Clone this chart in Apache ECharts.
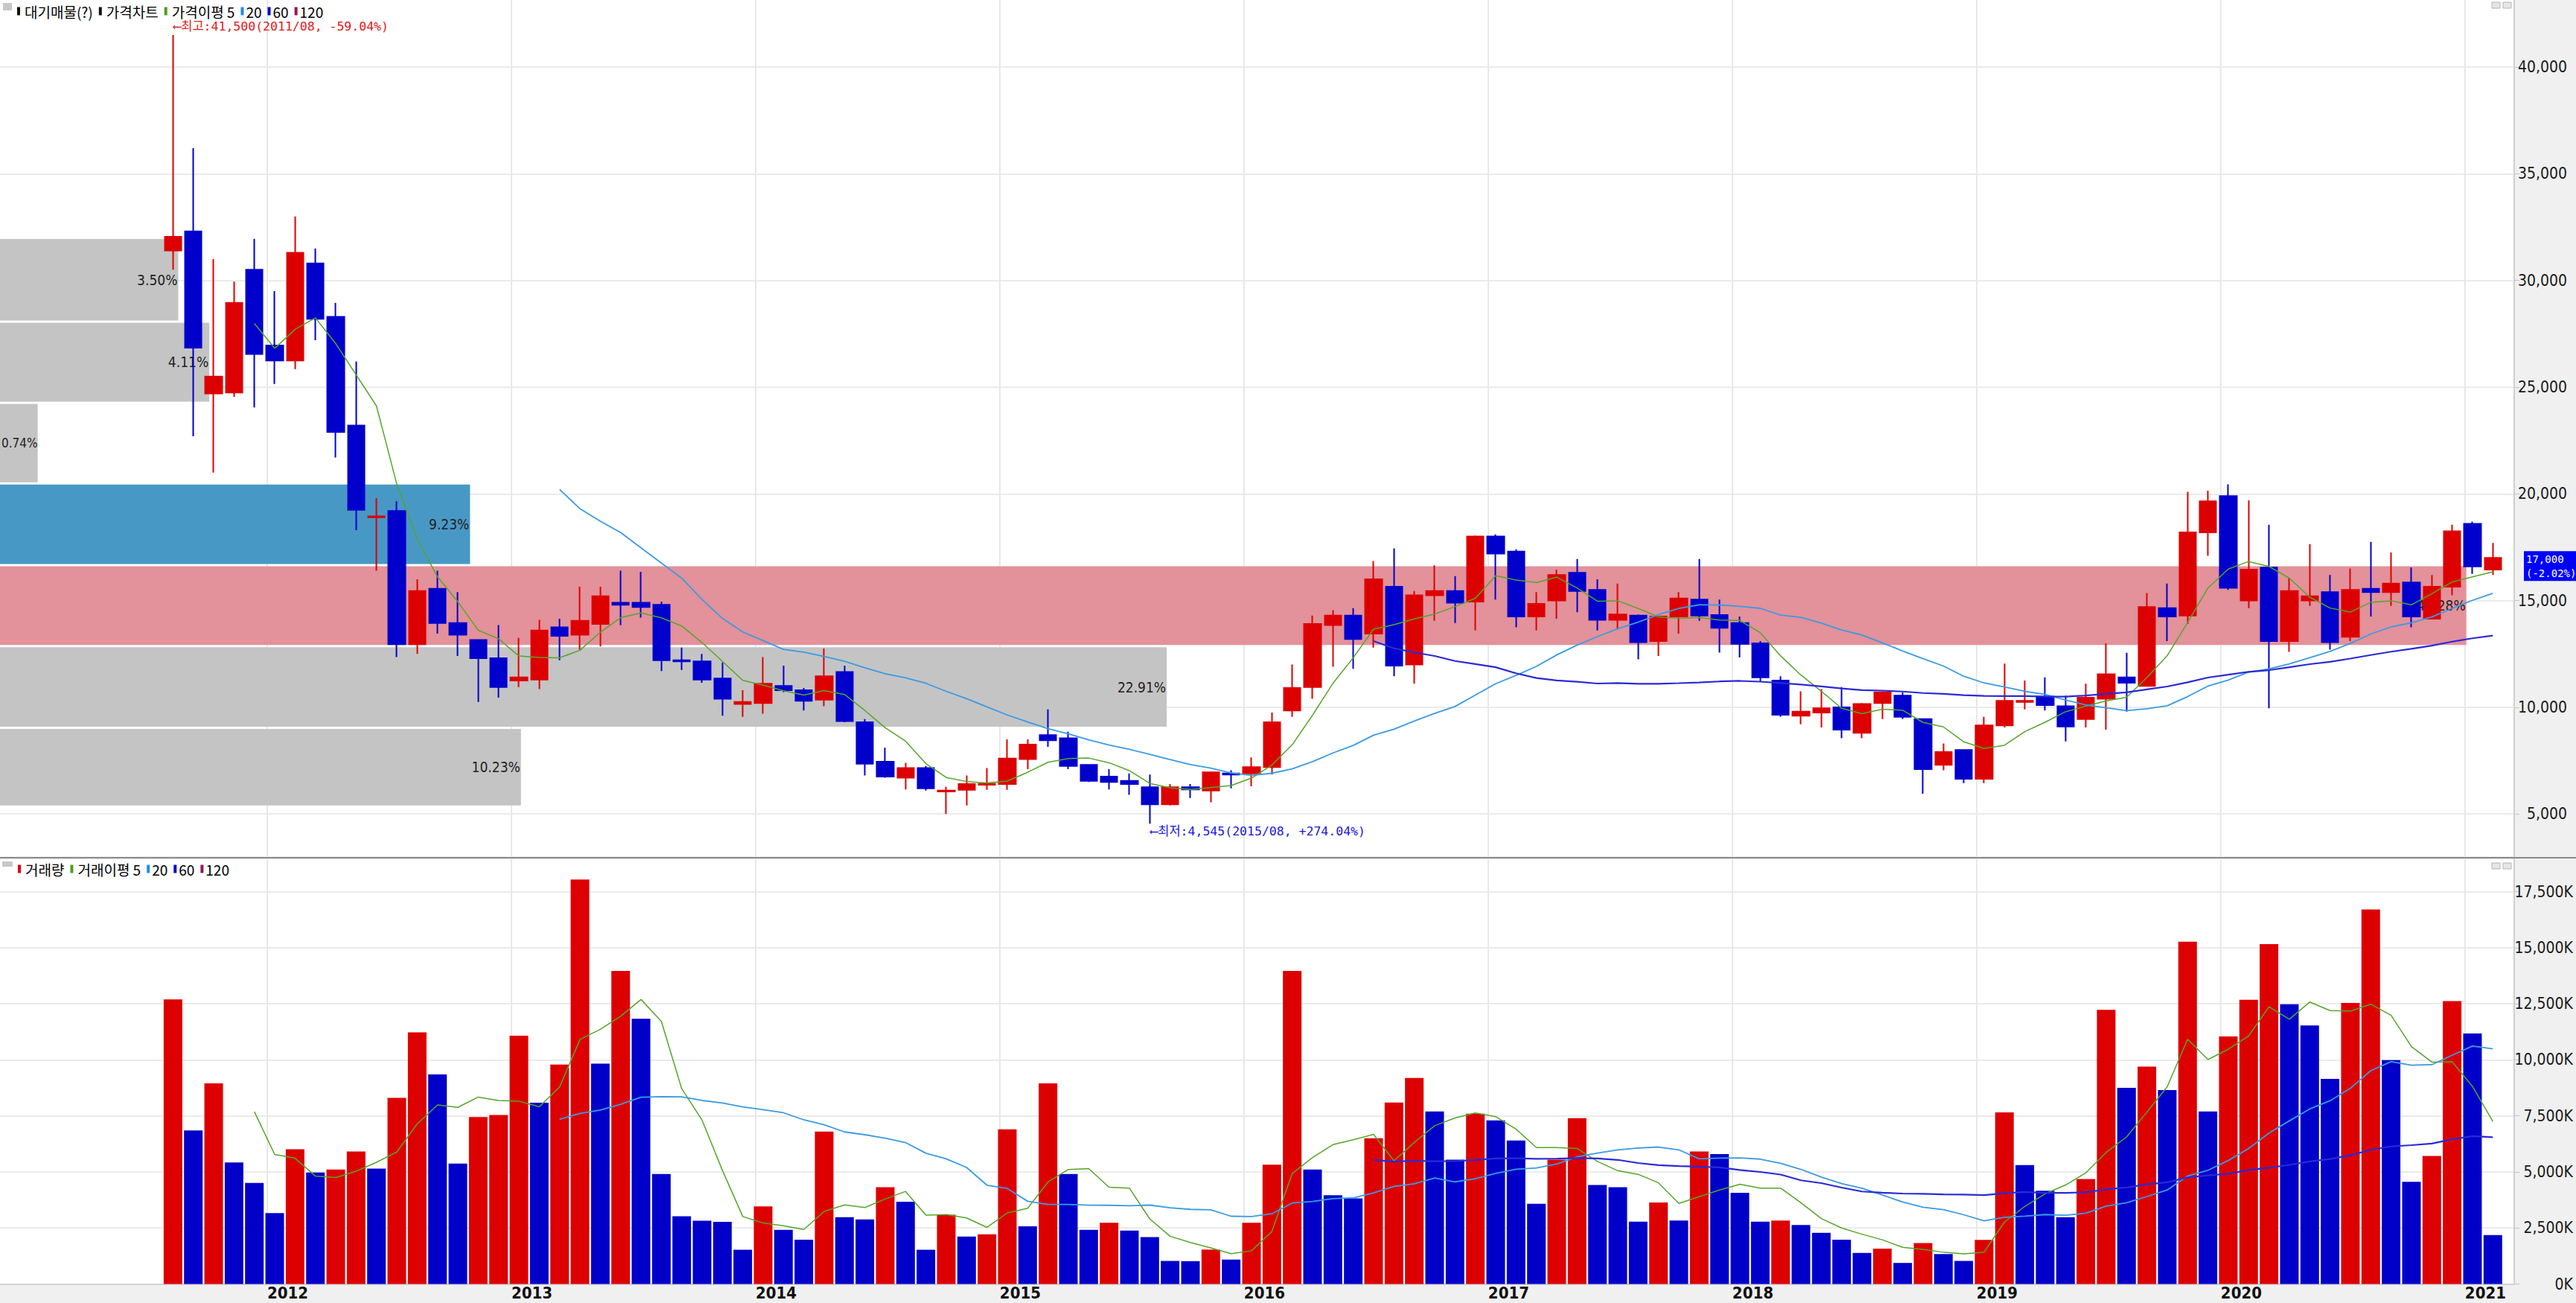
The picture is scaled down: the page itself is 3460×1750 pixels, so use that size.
<!DOCTYPE html>
<html><head><meta charset="utf-8">
<script src="https://cdn.jsdelivr.net/npm/echarts@6/dist/echarts.min.js"></script>
<style>html,body{margin:0;padding:0;background:#f0f0f0;}#c{width:3460px;height:1750px;}</style>
</head><body><div id="c"></div>
<script>
// ---------------- DATA ----------------
const startYear = 2011, startMonth = 8; // first candle = 2011/08, monthly candles
const opens = [31400,32300,24700,24750,30500,26950,26250,30800,28300,23200,
  18900,19200,12950,15550,13950,13150,12300,11250,11300,13750,
  13400,13900,14900,14900,14800,12200,12150,11350,10150,10200,
  11000,10800,10350,11650,9300,7450,6700,7150,6050,6130,
  6370,6400,7570,8700,8550,7300,6750,6550,6250,5450,
  6250,6100,6900,6900,7200,9850,10950,13850,14300,13450,
  15650,12000,15250,15450,14950,18000,17300,14250,15000,16300,
  15500,14100,14300,13100,14250,15050,14320,13950,13000,11250,
  9600,9750,10000,8800,10200,10550,9450,7300,8000,6650,
  9150,10250,10500,10050,9450,10400,11400,11000,14650,14300,
  18200,19900,15000,16550,13100,15000,15400,13300,15550,15400,
  15850,14150,15650,18600,16450];
const closes = [32050,26850,25500,28950,26550,26250,31300,28200,22900,19250,
  18950,12950,15450,13950,13400,12300,10950,11400,13600,13350,
  14050,15200,14800,14700,12200,12150,11300,10400,10250,11100,
  10800,10300,11450,9350,7350,6750,7150,6200,6100,6400,
  6420,7600,8250,8450,7250,6550,6500,6400,5450,6250,
  6150,6950,6850,7200,9300,10900,13900,14300,13200,16000,
  11950,15250,15450,14900,18000,17200,14250,14850,16200,15450,
  14100,14350,13050,14250,15100,14300,13720,12970,11400,9650,
  9800,9950,8950,10150,10700,9550,7100,7900,6650,9150,
  10300,10300,10100,9100,10450,11550,11150,14700,14250,18200,
  19650,15600,16450,13100,15450,15200,13050,15500,15400,15800,
  14250,15650,18250,16600,17000];
const lows = [30500,22700,21000,24550,24050,25150,25850,27200,21700,18300,
  16400,12350,12500,13450,12400,10250,10450,10950,10850,12200,
  12700,12850,13850,14200,11700,11750,11150,9600,9550,9700,
  10700,9850,10050,9300,6800,6700,6150,6100,5000,5400,
  6130,6130,7100,8150,7100,6500,6150,5900,4545,5400,
  5750,5550,6200,6300,6850,9550,10400,11900,11800,12800,
  11450,11100,14050,13950,13600,15050,13750,13600,14150,14450,
  13600,13650,12250,12400,13450,14050,12560,12330,11200,9550,
  9200,9050,8550,8550,9450,9450,5950,7050,6450,6450,
  9050,9900,9850,8400,9050,8950,9800,11000,13100,13900,
  17100,15500,14650,9950,12600,14750,12700,13100,14250,14750,
  13750,14150,15250,16250,16200];
const highs = [41500,36200,31000,29950,31950,29500,33000,31500,28950,26200,
  19800,19650,16000,16400,15400,13150,13850,13250,14100,14150,
  15650,15650,16400,16350,14950,12800,12500,12100,10800,12350,
  11950,10900,12750,11950,9450,8100,7400,7250,6270,6800,
  7150,8500,8500,9900,8850,7300,7100,6900,6850,6400,
  6400,6950,7050,7650,9750,12000,14300,14550,14650,16850,
  17450,15450,16650,16150,18050,18100,17400,15400,16450,16950,
  16000,15800,14350,14250,15400,16950,15050,14250,13100,11450,
  10750,10850,10950,10200,10750,10700,9450,8300,8000,9550,
  12050,11250,11400,10550,11100,13000,12550,15350,15800,20100,
  20150,20450,19700,18550,16050,17650,16200,16500,17750,17250,
  16550,16200,18550,18700,17700];
// volume in thousands of shares (K)
const volumes = [12700,6850,8950,5420,4510,3160,6010,4970,5110,5910,
  5150,8300,11230,9350,5370,7450,7540,11080,8090,9790,
  18040,9830,13970,11830,4910,3020,2820,2770,1530,3460,
  2420,1980,6800,2980,2880,4320,3670,1530,3090,2120,
  2220,6900,2570,8950,4910,2420,2730,2380,2090,1030,
  1020,1540,1090,2730,5320,13970,5110,3960,3820,6505,
  8100,9190,7700,5550,7600,7300,6400,3580,5550,7400,
  4420,4320,2780,3640,2830,5910,5800,4070,2780,2830,
  2630,2280,1980,1390,1580,940,1830,1340,1030,1970,
  7660,5310,4160,2980,4680,12230,8750,9700,8650,15270,
  7700,11040,12680,15160,12480,11530,9150,12540,16710,9990,
  4560,5710,12620,11180,2180];
const priceTicks = [5000,10000,15000,20000,25000,30000,35000,40000];
const volumeTicks = [0,2500,5000,7500,10000,12500,15000,17500];
// 대기매물 (volume-at-price) bands, top to bottom
const profileHigh = [32000,28070,24270,20490,16660,12870,9040];
const profileLow  = [28070,24270,20490,16660,12870,9040,5350];
const profilePct  = [3.50,4.11,0.74,9.23,49.28,22.91,10.23];
const lastChangePct = -2.02;
const maPeriods = [5,20,60];

// ---------------- HELPERS ----------------
const N = closes.length;
const monthLabel = i => {
  const t = startMonth - 1 + i;
  return (startYear + Math.floor(t / 12)) + '/' + String(t % 12 + 1).padStart(2, '0');
};
const janIdx = [];
for (let i = 0; i < N; i++) if ((startMonth - 1 + i) % 12 === 0) janIdx.push(i);
const GRID_OFF = -0.37;
const janPos = janIdx.map(i => i + GRID_OFF);
const yearOf = v => { const i = Math.round(v - GRID_OFF); return String(startYear + Math.floor((startMonth - 1 + i) / 12)); };
function ma(arr, n) {
  return arr.map((_, i) => {
    if (i < n - 1) return [i, null];
    let s = 0; for (let k = i - n + 1; k <= i; k++) s += arr[k];
    return [i, s / n];
  });
}
const fmt = v => v.toLocaleString('en-US');

const RED = '#dd0000', BLUE = '#0000cc';
const MA_COLORS = ['#55a52a', '#3a9be2', '#2a2ad6'];
const MA_WIDTHS = [1.5, 1.8, 2.2];
const NARROW = '"Liberation Sans Narrow","DejaVu Sans Condensed","Liberation Sans",sans-serif';
const MONO = '"DejaVu Sans Mono","Noto Sans CJK KR",monospace';
const KR = '"Noto Sans CJK KR","Noto Sans",sans-serif';

const candleData = opens.map((o, i) => [i, o, closes[i], lows[i], highs[i]]);
const volData = volumes.map((v, i) => [i, v]);
const volUp = volumes.map((v, i) => i === 0 || v > volumes[i - 1]);

const lastClose = closes[N - 1];
const curBand = profileLow.findIndex((lo, i) => lastClose >= lo && lastClose < profileHigh[i]);
const maxBand = profilePct.indexOf(Math.max(...profilePct));
const profileColor = i => i === maxBand ? '#e3919a' : (i === curBand ? '#4898c6' : '#c4c4c4');
const PROFILE_AXIS_MAX = 49.37, PROFILE_CLIP = 48.43;
const profileData = profilePct.map((p, i) => [profileLow[i], profileHigh[i], p]);

const X_MIN = -8.5, X_MAX = 115.05;

const chart = echarts.init(document.getElementById('c'), null, {renderer: 'svg', width: 3460, height: 1750});

const xBase = (grid) => ({
  type: 'value', gridIndex: grid, min: X_MIN, max: X_MAX,
  axisLine: {show: false, onZero: false},
  axisTick: {show: false, customValues: janPos},
  splitLine: {show: true, lineStyle: {color: '#e8e8e8', width: 2}},
});

const priceMA = maPeriods.map((p, k) => ({
  type: 'line', name: '이평' + p, xAxisIndex: 0, yAxisIndex: 0,
  data: ma(closes, p), showSymbol: false, symbol: 'none', connectNulls: false,
  lineStyle: {color: MA_COLORS[k], width: MA_WIDTHS[k]}, z: 6, silent: true
}));
const volMA = maPeriods.map((p, k) => ({
  type: 'line', name: '거래이평' + p, xAxisIndex: 1, yAxisIndex: 1,
  data: ma(volumes, p), showSymbol: false, symbol: 'none',
  lineStyle: {color: MA_COLORS[k], width: MA_WIDTHS[k]}, z: 6, silent: true
}));

const option = {
  animation: false,
  backgroundColor: '#f0f0f0',
  textStyle: {fontFamily: NARROW},
  grid: [
    {left: 0, top: 0, width: 3377, height: 1150, show: true, backgroundColor: '#ffffff', borderWidth: 0, containLabel: false, outerBoundsMode: 'none'},
    {left: 0, top: 1154, width: 3377, height: 570.5, show: true, backgroundColor: '#ffffff', borderWidth: 0, containLabel: false, outerBoundsMode: 'none'}
  ],
  xAxis: [
    Object.assign(xBase(0), {axisLabel: {show: false}}),
    Object.assign(xBase(1), {
      axisLine: {show: true, onZero: false, lineStyle: {color: '#d4d4d4', width: 2}},
      axisLabel: {show: true, customValues: janPos, formatter: yearOf, align: 'left', margin: 2,
        fontFamily: NARROW, fontWeight: 'bold', fontSize: 22, lineHeight: 20, color: '#111'}
    }),
    {type: 'value', gridIndex: 0, min: 0, max: PROFILE_AXIS_MAX, show: false}
  ],
  yAxis: [
    {type: 'value', gridIndex: 0, position: 'right', min: 3018, max: 43144,
      axisLine: {show: true, onZero: false, lineStyle: {color: '#cfcfcf', width: 2}},
      axisTick: {show: true, length: 7, customValues: priceTicks, lineStyle: {color: '#c4c4c4', width: 1}},
      axisLabel: {customValues: priceTicks, formatter: v => fmt(v), align: 'right', margin: 71,
        fontFamily: NARROW, fontSize: 21, color: '#1a1a1a'},
      splitLine: {show: true, lineStyle: {color: '#ebebeb', width: 2}}},
    {type: 'value', gridIndex: 1, position: 'right', min: 0, max: 18949,
      axisLine: {show: true, onZero: false, lineStyle: {color: '#cfcfcf', width: 2}},
      axisTick: {show: true, length: 7, customValues: volumeTicks, lineStyle: {color: '#c4c4c4', width: 1}},
      axisLabel: {customValues: volumeTicks, formatter: v => fmt(v) + 'K', align: 'right', margin: 79,
        fontFamily: NARROW, fontSize: 21, color: '#1a1a1a'},
      splitLine: {show: true, lineStyle: {color: '#ebebeb', width: 2}}}
  ],
  series: [
    {
      type: 'custom', name: '대기매물(?)', xAxisIndex: 2, yAxisIndex: 0, z: 1, silent: true, clip: false,
      data: profileData,
      renderItem: (params, api) => {
        const lo = api.value(0), hi = api.value(1), pct = api.value(2);
        const a = api.coord([0, hi]);
        const b = api.coord([Math.min(pct, PROFILE_CLIP), lo]);
        const narrow = (b[0] - a[0]) < 70;
        return {type: 'group', children: [
          {type: 'rect', shape: {x: a[0], y: a[1] + 1.5, width: b[0] - a[0], height: b[1] - a[1] - 3},
            style: {fill: profileColor(params.dataIndex)}},
          {type: 'text', x: narrow ? a[0] + 2 : b[0] - 1, y: (a[1] + b[1]) / 2,
            style: {text: pct.toFixed(2) + '%', align: narrow ? 'left' : 'right', verticalAlign: 'middle',
              fill: '#222', fontSize: narrow ? 17 : 19, fontFamily: NARROW}}
        ]};
      }
    },
    {
      type: 'candlestick', name: '가격차트', xAxisIndex: 0, yAxisIndex: 0, z: 5,
      dimensions: ['idx', 'open', 'close', 'lowest', 'highest'],
      encode: {x: 0, y: [1, 2, 3, 4]},
      data: candleData, barWidth: 23,
      itemStyle: {color: RED, color0: BLUE, borderColor: RED, borderColor0: BLUE, borderWidth: 2}
    },
    ...priceMA,
    {
      type: 'bar', name: '거래량', xAxisIndex: 1, yAxisIndex: 1, z: 4, barWidth: 25,
      data: volData,
      itemStyle: {color: p => volUp[p.dataIndex] ? RED : '#0000c8'}
    },
    ...volMA
  ]
};
chart.setOption(option);

// ---------------- overlays computed through the axes ----------------
const hiIdx = highs.indexOf(Math.max(...highs));
const loIdx = lows.indexOf(Math.min(...lows));
const hiVal = highs[hiIdx], loVal = lows[loIdx];
const pHi = chart.convertToPixel({xAxisIndex: 0, yAxisIndex: 0}, [hiIdx, hiVal]);
const pLo = chart.convertToPixel({xAxisIndex: 0, yAxisIndex: 0}, [loIdx, loVal]);
const pLast = chart.convertToPixel({xAxisIndex: 0, yAxisIndex: 0}, [N - 1, lastClose]);
const hiPct = ((lastClose - hiVal) / hiVal * 100).toFixed(2);
const loPct = ((lastClose - loVal) / loVal * 100).toFixed(2);

function legendRich(colors) {
  const r = {s: {width: 6}, s3: {width: 3}, g: {width: 8}};
  colors.forEach((c, i) => {
    r['m' + i] = {width: 4, height: 11, backgroundColor: c, verticalAlign: 'middle'};
    r['t' + i] = {color: c, fontSize: 19, fontFamily: KR, verticalAlign: 'middle'};
  });
  return r;
}
const priceLegendColors = ['#111111', '#111111', '#4c9e1f', '#1f8fe4', '#0000d8', '#8b1c55'];
const volLegendColors = ['#e00000', '#4c9e1f', '#1f8fe4', '#0000d8', '#8b1c55'];

const graphics = [
  {type: 'line', shape: {x1: 0, y1: 1152, x2: 3460, y2: 1152}, style: {stroke: '#8a8a8a', lineWidth: 2}, z: 50, silent: true},
  {type: 'rect', shape: {x: 4, y: 4, width: 12, height: 10}, style: {fill: '#c8c8c8'}, z: 50},
  {type: 'rect', shape: {x: 3, y: 1157, width: 14, height: 7}, style: {fill: '#c8c8c8'}, z: 50},
  {type: 'rect', shape: {x: 3347, y: 3, width: 11, height: 8}, style: {fill: '#e6e6e6', stroke: '#b4b4b4', lineWidth: 1}, z: 50},
  {type: 'rect', shape: {x: 3362, y: 3, width: 11, height: 8}, style: {fill: '#e6e6e6', stroke: '#b4b4b4', lineWidth: 1}, z: 50},
  {type: 'rect', shape: {x: 3347, y: 1159, width: 11, height: 8}, style: {fill: '#e6e6e6', stroke: '#b4b4b4', lineWidth: 1}, z: 50},
  {type: 'rect', shape: {x: 3362, y: 1159, width: 11, height: 8}, style: {fill: '#e6e6e6', stroke: '#b4b4b4', lineWidth: 1}, z: 50},
  {type: 'text', x: 23, y: 15, z: 60, style: {
    text: '{m0| }{s| }{t0|대기매물(?)}{g| }{m1| }{s| }{t1|가격차트}{g| }{m2| }{s| }{t2|가격이평 5}{g| }{m3| }{s3| }{t3|20}{g| }{m4| }{s3| }{t4|60}{g| }{m5| }{s3| }{t5|120}',
    rich: legendRich(priceLegendColors), verticalAlign: 'middle', fontSize: 19, fontFamily: KR}},
  {type: 'text', x: 24, y: 1167, z: 60, style: {
    text: '{m0| }{s| }{t0|거래량}{g| }{m1| }{s| }{t1|거래이평 5}{g| }{m2| }{s3| }{t2|20}{g| }{m3| }{s3| }{t3|60}{g| }{m4| }{s3| }{t4|120}',
    rich: legendRich(volLegendColors), verticalAlign: 'middle', fontSize: 19, fontFamily: KR}},
  {type: 'text', x: pHi[0] + 1, y: pHi[1] - 12, z: 60, style: {
    text: '⟵최고:' + fmt(hiVal) + '(' + monthLabel(hiIdx) + ', ' + hiPct + '%)',
    fill: '#e01818', fontSize: 16.5, fontFamily: MONO, verticalAlign: 'middle', align: 'left'}},
  {type: 'text', x: pLo[0] + 1, y: pLo[1] + 10, z: 60, style: {
    text: '⟵최저:' + fmt(loVal) + '(' + monthLabel(loIdx) + ', +' + loPct + '%)',
    fill: '#1818e0', fontSize: 16.5, fontFamily: MONO, verticalAlign: 'middle', align: 'left'}},
  {type: 'rect', shape: {x: 3390, y: pLast[1] - 9, width: 70, height: 40}, style: {fill: '#0000ff'}, z: 60},
  {type: 'text', x: 3393, y: pLast[1] - 8, z: 61, style: {
    text: fmt(lastClose) + '\n(' + lastChangePct.toFixed(2) + '%)', fill: '#ffffff',
    fontSize: 14, fontFamily: MONO, lineHeight: 19, align: 'left', verticalAlign: 'top'}}
];
chart.setOption({graphic: graphics});
</script>
</body></html>
